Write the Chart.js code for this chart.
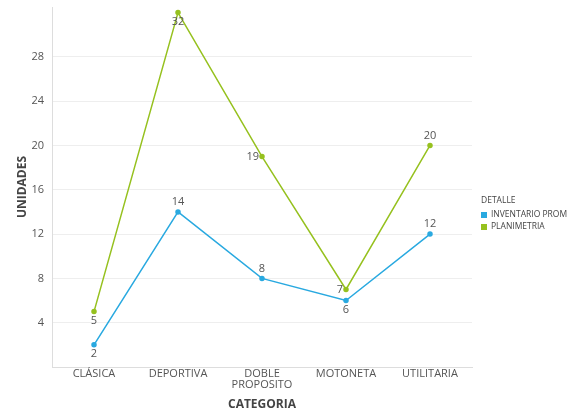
<!DOCTYPE html>
<html>
<head>
<meta charset="utf-8">
<script src="https://cdn.jsdelivr.net/npm/chart.js@4/dist/chart.umd.min.js"></script>
<style>
  html,body{margin:0;padding:0;background:#fff;}
  #wrap{width:573px;height:415px;position:relative;}
</style>
</head>
<body>
<div id="wrap"><canvas id="c"></canvas></div>
<script>
/* ── data ── */
const CATEGORIAS   = ["CLÁSICA", "DEPORTIVA", ["DOBLE", "PROPOSITO"], "MOTONETA", "UTILITARIA"];
const INVENTARIO   = [2, 14, 8, 6, 12];
const PLANIMETRIA  = [5, 32, 19, 7, 20];
const Y_TICKS      = [4, 8, 12, 16, 20, 24, 28];
// where each value label sits relative to its point
const POS_INV      = ["below", "above", "above", "below", "above"];
const POS_PLAN     = ["below", "below", "left", "left", "above"];

const BLUE  = "#29a9e0";
const GREEN = "#96c11f";
const FONT  = "'Open Sans', 'Noto Sans', sans-serif";

const valueLabels = {
  id: "valueLabels",
  afterDatasetsDraw(chart) {
    const ctx = chart.ctx;
    ctx.save();
    ctx.font = "11px " + FONT;
    ctx.fillStyle = "#555";
    chart.data.datasets.forEach((ds, i) => {
      const meta = chart.getDatasetMeta(i);
      meta.data.forEach((pt, j) => {
        const pos = ds.labelPos[j];
        let x = pt.x, y = pt.y;
        ctx.textAlign = "center";
        ctx.textBaseline = "middle";
        if (pos === "above") y -= 10;
        else if (pos === "below") y += 9;
        else if (pos === "left") { x -= 3; ctx.textAlign = "right"; }
        ctx.fillText(String(ds.data[j]), x, y);
      });
    });
    ctx.restore();
  }
};

const sideLegend = {
  id: "sideLegend",
  afterDraw(chart) {
    const ctx = chart.ctx;
    const x0 = 481, y0 = 201;
    ctx.save();
    ctx.font = "8.5px " + FONT;
    ctx.textBaseline = "middle";
    ctx.textAlign = "left";
    ctx.fillStyle = "#444";
    ctx.fillText("DETALLE", x0, y0);
    chart.data.datasets.forEach((ds, i) => {
      const y = y0 + 14 + i * 12;
      ctx.fillStyle = ds.borderColor;
      ctx.fillRect(x0, y - 3, 6, 6);
      ctx.fillStyle = "#444";
      ctx.fillText(ds.label, x0 + 10, y);
    });
    ctx.restore();
  }
};

new Chart(document.getElementById("c"), {
  type: "line",
  data: {
    labels: CATEGORIAS,
    datasets: [
      { label: "INVENTARIO PROM", data: INVENTARIO, labelPos: POS_INV,
        borderColor: BLUE, backgroundColor: BLUE, borderWidth: 1.5,
        pointRadius: 2, pointHoverRadius: 2, tension: 0 },
      { label: "PLANIMETRIA", data: PLANIMETRIA, labelPos: POS_PLAN,
        borderColor: GREEN, backgroundColor: GREEN, borderWidth: 1.5,
        pointRadius: 2, pointHoverRadius: 2, tension: 0 },
    ],
  },
  options: {
    responsive: true,
    maintainAspectRatio: false,
    animation: false,
    layout: { padding: { left: 0, right: 101, top: 7, bottom: 0 } },
    plugins: { legend: { display: false }, tooltip: { enabled: false } },
    scales: {
      x: {
        offset: true,
        afterFit: s => { s.height = 48; },
        grid: { display: false, drawTicks: false },
        border: { color: "#ddd" },
        ticks: { font: { family: FONT, size: 11, lineHeight: 1.05 }, color: "#555", padding: 1, maxRotation: 0 },
        title: { display: true, text: "CATEGORIA", font: { family: FONT, size: 12, weight: "bold" }, color: "#444", padding: { top: 0, bottom: 3 } },
      },
      y: {
        min: 0, max: 32.5,
        afterBuildTicks: s => { s.ticks = Y_TICKS.map(v => ({ value: v })); },
        afterFit: s => { s.width = 52; s.paddingTop = 0; s.paddingBottom = 0; },
        grid: { color: "#eee", drawTicks: false },
        border: { color: "#ddd" },
        ticks: { font: { family: FONT, size: 11 }, color: "#555", padding: 8 },
        title: { display: true, text: "UNIDADES", font: { family: FONT, size: 12, weight: "bold" }, color: "#444", padding: { top: 15, bottom: 0 } },
      },
    },
  },
  plugins: [valueLabels, sideLegend],
});
</script>
</body>
</html>
